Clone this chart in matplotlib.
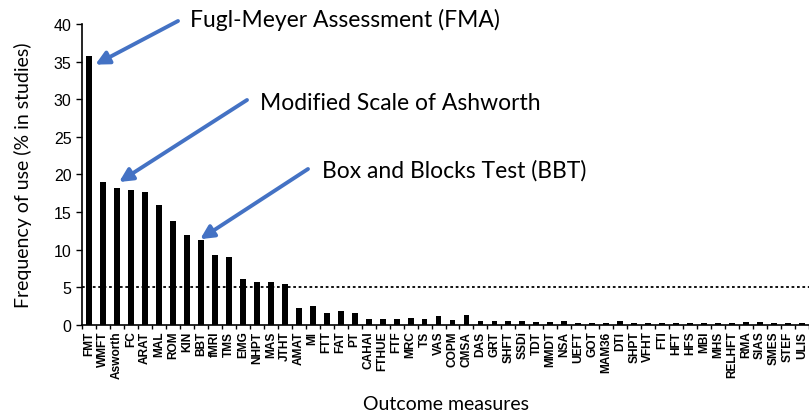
import matplotlib.pyplot as plt
import numpy as np

measures = ['FMT', 'WMFT', 'Asworth', 'FC', 'ARAT', 'MAL', 'ROM', 'KIN', 'BBT', 'fMRI',
            'TMS', 'EMG', 'NHPT', 'MAS', 'JTHT', 'AMAT', 'MI', 'FTT', 'FAT', 'PT',
            'CAHAI', 'FTHUE', 'FTF', 'MRC', 'TS', 'VAS', 'COPM', 'CMSA', 'DAS', 'GRT',
            'SHFT', 'SSDi', 'TDT', 'MMDT', 'NSA', 'UEFT', 'GOT', 'MAM36', 'DTI', 'SHPT',
            'VFHT', 'FTI', 'HFT', 'HFS', 'MBI', 'MHS', 'RELHFT', 'RMA', 'SIAS', 'SMES',
            'STEF', 'ULIS']
freq = [35.8, 19.0, 18.2, 18.0, 17.7, 15.9, 13.8, 11.9, 11.3, 9.3,
        9.0, 6.1, 5.7, 5.7, 5.5, 2.2, 2.5, 1.6, 1.9, 1.6,
        0.8, 0.8, 0.8, 0.95, 0.8, 1.15, 0.6, 1.35, 0.5, 0.5,
        0.5, 0.5, 0.4, 0.4, 0.5, 0.3, 0.3, 0.3, 0.5, 0.2,
        0.2, 0.2, 0.2, 0.2, 0.2, 0.2, 0.2, 0.4, 0.4, 0.2,
        0.2, 0.2]
threshold = 5

callouts = [
    ('Fugl-Meyer Assessment (FMA)', 0),
    ('Modified Scale of Ashworth', 2),
    ('Box and Blocks Test (BBT)', 8),
]

fig = plt.figure(figsize=(8.09, 4.14), dpi=100)
ax = fig.add_axes([0.1014, 0.2126, 0.8986, 0.727])

x = np.arange(len(measures))
ax.bar(x, freq, width=0.42, color='black')
ax.axhline(threshold, color='black', linestyle=(0, (1.5, 1.5)), linewidth=1.3)

ax.set_xlim(-0.5, len(measures) - 1 + 0.07)
ax.set_ylim(0, 40)
ax.set_yticks(range(0, 41, 5))
ax.set_xticks(x)
ax.set_xticklabels(measures, rotation=90, fontsize=8.6, fontweight='bold',
                   family='Liberation Sans')
ax.set_xticks(np.arange(-0.5, len(measures), 1), minor=True)
ax.tick_params(axis='x', which='major', length=0, pad=4)
ax.tick_params(axis='x', which='minor', length=3, width=1, direction='out')
ax.tick_params(axis='y', length=4, width=1, labelsize=11.5)
for lab in ax.get_yticklabels():
    lab.set_family('Liberation Sans')

ax.spines['top'].set_visible(False)
ax.spines['right'].set_visible(False)
ax.spines['left'].set_linewidth(1.2)
ax.spines['bottom'].set_linewidth(1.2)

ax.set_ylabel('Frequency of use (% in studies)', fontsize=14, family='Lato', labelpad=16)
ax.set_xlabel('Outcome measures', fontsize=14, family='Lato', labelpad=12)

# annotation text / arrow tail positions in figure pixels (from top-left)
text_px = [(190, 20), (260, 103), (322, 171)]
tail_px = [(178, 22), (247, 101), (308, 170)]
tip_off = [(0.45, -1.2), (0.15, 0.8), (-0.05, 0.1)]
for (label, idx), (tx, ty), (sx, sy), (dx, dy) in zip(callouts, text_px, tail_px, tip_off):
    fig.text(tx / 809, 1 - ty / 414, label, fontsize=16.5, family='Lato', va='center')
    ax.annotate('', xy=(idx + dx, freq[idx] + dy), xycoords='data',
                xytext=(sx / 809, 1 - sy / 414), textcoords='figure fraction',
                arrowprops=dict(arrowstyle='-|>', color='#4472C4', lw=2.8,
                                mutation_scale=20, shrinkA=0, shrinkB=0))

fig.savefig('out.png', dpi=100)
